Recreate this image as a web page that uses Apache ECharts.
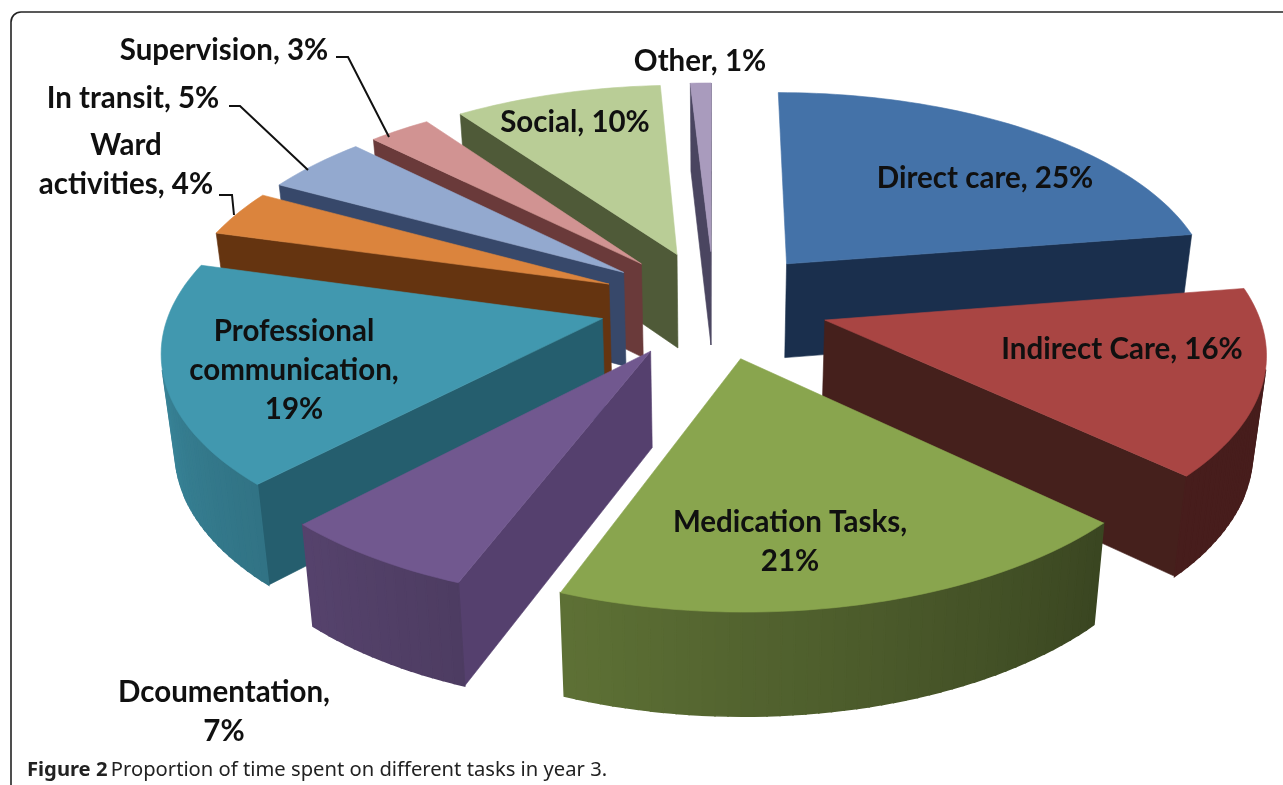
<!DOCTYPE html>
<html>
<head>
<meta charset="UTF-8">
<title>Figure 2</title>
<script src="https://cdn.jsdelivr.net/npm/echarts@6/dist/echarts.min.js"></script>
<style>html,body{margin:0;padding:0;background:#fff}#main{width:1283px;height:785px}</style>
</head>
<body>
<div id="main"></div>
<script>
// values as printed on the labels (they add up to 111, the pie normalises them)
var categories = ['Direct care', 'Indirect Care', 'Medication Tasks', 'Dcoumentation', 'Professional communication', 'Ward activities', 'In transit', 'Supervision', 'Social', 'Other'];
var values = [25, 16, 21, 7, 19, 4, 5, 3, 10, 1];
var labelBreaks = [
    'Direct care, 25%', 'Indirect Care, 16%', 'Medication Tasks,\n21%', 'Dcoumentation,\n7%',
    'Professional\ncommunication,\n19%', 'Ward\nactivities, 4%', 'In transit, 5%', 'Supervision, 3%', 'Social, 10%', 'Other, 1%'
];
var topColors = ['#4472a8', '#a94543', '#89a54e', '#71588f', '#4198af', '#db843d', '#93a9cf', '#d19392', '#b9cd96', '#a99bbd'];
var cutColors = ['#1a2f4d', '#45201c', '#36441f', '#55406e', '#255e6e', '#653410', '#37486a', '#6a3a3a', '#4f5a38', '#4a4560'];
var labelX = [985, 1122, 790, 224, 294, 126, 133, 224, 575, 700];
var labelY = [178, 349, 542, 712, 370, 165, 98, 50, 122, 61];
// leader lines of the three small slices
var leaders = [
    [[336, 57], [348, 57], [389, 137]],
    [[229, 106], [240, 106], [308, 170]],
    [[219, 195], [232, 195], [234, 215]]
];

// 3d view of the pie
var cx = 714, cy = 304;
var radius = 431, tilt = 0.473, persp = 0.1325, explode = 0.266, height = 95, bottomShrink = 0.975;
var startAngle = 0;

var total = values.reduce(function (a, b) { return a + b; }, 0);
var spans = [];
var acc = startAngle;
values.forEach(function (v) {
    var d = v / total * 360;
    spans.push([acc, acc + d]);
    acc += d;
});

function rad(d) { return d * Math.PI / 180; }

function project(theta, r, phi, bottom) {
    var wx = r * Math.sin(rad(theta)) + explode * Math.sin(rad(phi));
    var wy = r * Math.cos(rad(theta)) + explode * Math.cos(rad(phi));
    var s = 1 / (1 + persp * wy);
    var x = radius * wx * s;
    var y = -radius * tilt * wy * s;
    if (bottom) {
        x *= bottomShrink;
        y += height * Math.sqrt(s);
    }
    return [cx + x, cy + y];
}

function area(pts) {
    var a = 0;
    for (var i = 0; i < pts.length; i++) {
        var p = pts[i], q = pts[(i + 1) % pts.length];
        a += p[0] * q[1] - q[0] * p[1];
    }
    return a / 2;
}

// rim gets lighter towards the left of the pie
function rimShade(theta) {
    var t = ((theta % 360) + 360) % 360;
    var keys = [[0, 0.45], [90, 0.42], [132, 0.42], [200, 0.68], [225, 0.76], [270, 0.9], [360, 0.6]];
    for (var i = 1; i < keys.length; i++) {
        if (t <= keys[i][0]) {
            var f = (t - keys[i - 1][0]) / (keys[i][0] - keys[i - 1][0]);
            return keys[i - 1][1] + (keys[i][1] - keys[i - 1][1]) * f;
        }
    }
    return 0.5;
}

function shade(hex, k) {
    var n = parseInt(hex.slice(1), 16);
    return 'rgb(' + Math.round((n >> 16) * k) + ',' + Math.round(((n >> 8) & 255) * k) + ',' + Math.round((n & 255) * k) + ')';
}

function poly(points, fill, z2, lw) {
    return {
        type: 'polygon',
        z2: z2,
        shape: { points: points },
        style: { fill: fill, stroke: fill, lineWidth: lw || 0.6 },
        silent: true
    };
}

function renderSlice(params, api) {
    var i = api.value(0);
    var a0 = spans[i][0], a1 = spans[i][1], phi = (a0 + a1) / 2;
    var z2 = Math.round((1 - Math.cos(rad(phi))) * 100);
    var children = [];
    var apex = project(0, 0, phi, false), apexB = project(0, 0, phi, true);
    var rim = [];
    var steps = Math.max(2, Math.ceil((a1 - a0) / 1.5));
    for (var k = 0; k <= steps; k++) {
        rim.push(a0 + (a1 - a0) * k / steps);
    }
    var top = [apex];
    rim.forEach(function (t) { top.push(project(t, 1, phi, false)); });

    // the two cut faces, only when they look at the viewer
    // (first slice's start face sits edge-on in this view, so it is left out)
    var s0 = [apex, project(a0, 1, phi, false), project(a0, 1, phi, true), apexB];
    var s1 = [project(a1, 1, phi, false), apex, apexB, project(a1, 1, phi, true)];
    if (i > 0 && area(s0) < 0) children.push(poly(s0, cutColors[i], z2));
    if (area(s1) < 0) children.push(poly(s1, cutColors[i], z2));

    for (var j = 0; j < rim.length - 1; j++) {
        var q = [project(rim[j], 1, phi, false), project(rim[j + 1], 1, phi, false), project(rim[j + 1], 1, phi, true), project(rim[j], 1, phi, true)];
        if (area(q) < 0) {
            children.push(poly(q, shade(topColors[i], rimShade((rim[j] + rim[j + 1]) / 2)), z2, 1.6));
        }
    }
    children.push(poly(top, topColors[i], z2 + 1));
    children.push({
        type: 'text',
        z2: 1000,
        silent: true,
        style: {
            text: labelBreaks[i],
            x: labelX[i],
            y: labelY[i],
            align: 'center',
            verticalAlign: 'middle',
            fontFamily: 'Lato',
            fontWeight: 'bold',
            fontSize: 29.5,
            lineHeight: 39,
            fill: '#101010'
        }
    });
    return { type: 'group', children: children };
}

var graphics = leaders.map(function (pts) {
    return {
        type: 'polyline',
        z: 5,
        shape: { points: pts },
        style: { stroke: '#111', lineWidth: 2, fill: null }
    };
});
// frame of the figure box
var frameStyle = { stroke: '#222', lineWidth: 1.6, fill: null };
graphics.push({ type: 'line', shape: { x1: 21, y1: 12, x2: 1283, y2: 12 }, style: frameStyle });
graphics.push({ type: 'line', shape: { x1: 11, y1: 22, x2: 11, y2: 785 }, style: frameStyle });
graphics.push({ type: 'arc', shape: { cx: 21, cy: 22, r: 10, startAngle: Math.PI, endAngle: Math.PI * 1.5 }, style: frameStyle });
graphics.push({
    type: 'text',
    left: 27,
    top: 760,
    style: {
        rich: {
            b: { fontFamily: 'Noto Sans', fontWeight: 'bold', fontSize: 20.2, fill: '#222' },
            n: { fontFamily: 'Noto Sans', fontSize: 20.2, fill: '#222' }
        },
        text: '{b|Figure 2} {n|Proportion of time spent on different tasks in year 3.}'
    }
});

var myChart = echarts.init(document.getElementById('main'), null, { renderer: 'canvas' });
myChart.setOption({
    animation: false,
    backgroundColor: '#fff',
    graphic: graphics,
    series: [{
        type: 'custom',
        coordinateSystem: 'none',
        renderItem: renderSlice,
        data: values.map(function (v, i) { return [i, v, categories[i]]; }),
        encode: { value: 1 }
    }]
});
</script>
</body>
</html>
